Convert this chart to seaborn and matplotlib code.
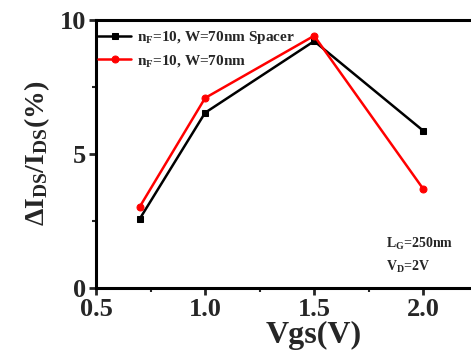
import matplotlib
matplotlib.use("Agg")
import matplotlib.pyplot as plt
import seaborn as sns
import pandas as pd

# values
vgs = [0.7, 1.0, 1.5, 2.0]
spacer = [2.57, 6.53, 9.2, 5.86]
no_spacer = [3.02, 7.08, 9.4, 3.69]
series_names = [r"n$_F$=10, W=70nm Spacer", r"n$_F$=10, W=70nm"]
x_ticks = [0.5, 1.0, 1.5, 2.0]
y_ticks = [0, 5, 10]

df = pd.DataFrame({
    "Vgs": vgs * 2,
    "val": spacer + no_spacer,
    "series": [series_names[0]] * 4 + [series_names[1]] * 4,
})

sns.set_theme(style="ticks")
plt.rcParams["font.family"] = ["Liberation Serif", "DejaVu Serif"]
plt.rcParams["font.weight"] = "bold"
plt.rcParams["mathtext.fontset"] = "custom"
plt.rcParams["mathtext.rm"] = "Liberation Serif:bold"
plt.rcParams["mathtext.it"] = "Liberation Serif:bold"
plt.rcParams["mathtext.bf"] = "Liberation Serif:bold"

fig = plt.figure(figsize=(4.71, 3.58), dpi=100)
ax = fig.add_axes([0.204, 0.196, 0.926, 0.749])

sns.lineplot(data=df, x="Vgs", y="val", hue="series", style="series",
             palette=["black", "red"], markers=["s", "o"], dashes=False,
             linewidth=1.8, markersize=5, markeredgecolor=None, ax=ax)

ax.set_xlim(0.5, 2.5)
ax.set_ylim(0, 10)
ax.set_xticks(x_ticks)
ax.set_xticklabels([f"{t:.1f}" for t in x_ticks])
ax.set_xticks([0.75, 1.25, 1.75, 2.25], minor=True)
ax.set_yticks(y_ticks)
ax.set_yticks([2.5, 7.5], minor=True)
ax.tick_params(axis="both", which="major", labelsize=19, width=2, length=5, direction="out", pad=2)
ax.tick_params(axis="both", which="minor", width=1.5, length=3, direction="out")
for lab in ax.get_xticklabels() + ax.get_yticklabels():
    lab.set_fontweight("bold")
for sp in ax.spines.values():
    sp.set_linewidth(2.2)
    sp.set_color("black")

ax.set_xlabel("Vgs(V)", fontsize=23, fontweight="bold", labelpad=0)
ax.set_ylabel(r"$\Delta$I$_{DS}$/I$_{DS}$(%)", fontsize=20, fontweight="bold", labelpad=6)

leg = ax.legend(loc="upper left", frameon=False, fontsize=11, handlelength=2.2,
                handletextpad=0.35, labelspacing=0.45, borderpad=0.0,
                borderaxespad=0.0, bbox_to_anchor=(0.004, 0.965))
for t in leg.get_texts():
    t.set_fontweight("bold")

ax.text(1.83, 1.5, r"L$_G$=250nm", fontsize=10, fontweight="bold", ha="left")
ax.text(1.83, 0.65, r"V$_D$=2V", fontsize=10, fontweight="bold", ha="left")

fig.savefig("out.png", dpi=100)
